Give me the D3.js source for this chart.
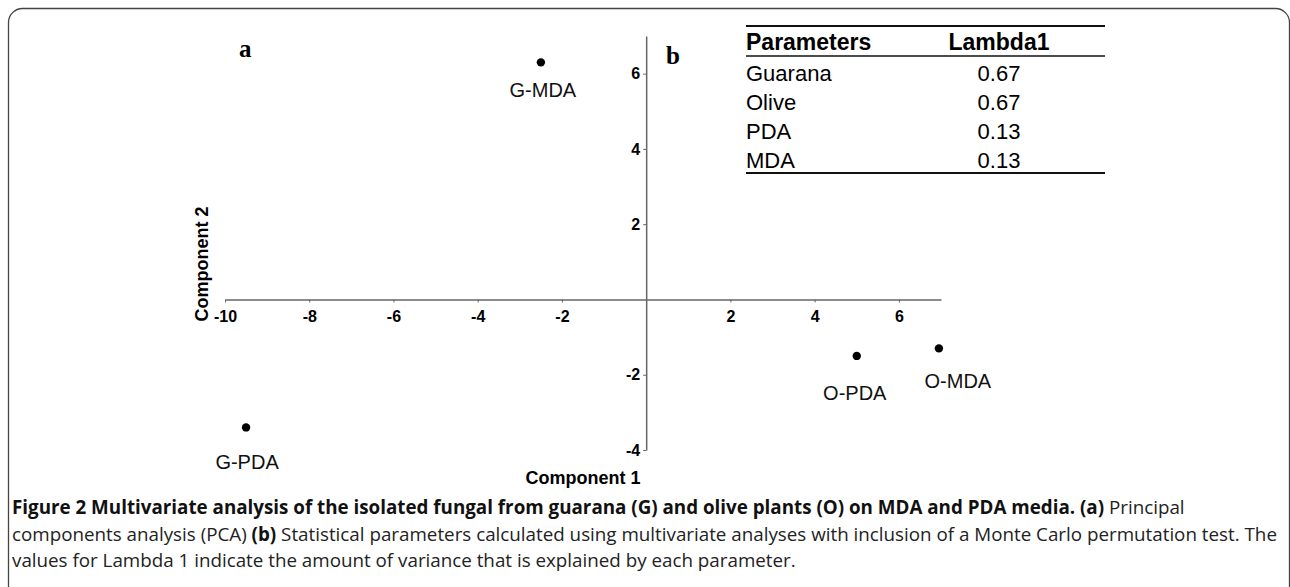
<!DOCTYPE html>
<html>
<head>
<meta charset="utf-8">
<script src="https://cdn.jsdelivr.net/npm/d3@7"></script>
<style>
  body { margin: 0; background: #fff; }
  svg { display: block; }
</style>
</head>
<body>
<svg id="chart" width="1290" height="587"></svg>
<script>
// PCA scores
var pointNames = ["G-MDA", "G-PDA", "O-PDA", "O-MDA"];
var comp1 = [-2.5, -9.5, 5.0, 6.95];
var comp2 = [6.3, -3.4, -1.5, -1.3];

var xTicks = [-10, -8, -6, -4, -2, 2, 4, 6];
var yTicks = [-4, -2, 2, 4, 6];

// table (b)
var tableHeader = ["Parameters", "Lambda1"];
var params = ["Guarana", "Olive", "PDA", "MDA"];
var lambda1 = ["0.67", "0.67", "0.13", "0.13"];

var svg = d3.select("#chart");
var sans = "'Liberation Sans', Arial, sans-serif";

// frame
svg.append("rect")
  .attr("x", 8.5).attr("y", 8.5)
  .attr("width", 1281).attr("height", 592)
  .attr("rx", 14).attr("ry", 14)
  .attr("fill", "none")
  .attr("stroke", "#444")
  .attr("stroke-width", 1.3);

var x = d3.scaleLinear().domain([-10, 7]).range([225, 941]);
var y = d3.scaleLinear().domain([-4, 7]).range([450, 36]);

var axisColor = "#666";

var gx = svg.append("g")
  .attr("transform", "translate(0," + y(0) + ")")
  .call(d3.axisBottom(x).tickValues(xTicks).tickSize(3).tickSizeOuter(0).tickPadding(8));

var gy = svg.append("g")
  .attr("transform", "translate(" + x(0) + ",0)")
  .call(d3.axisLeft(y).tickValues(yTicks).tickSize(3).tickSizeOuter(0).tickPadding(3));

[gx, gy].forEach(function(g) {
  g.select(".domain").attr("stroke", axisColor).attr("stroke-width", 1.5);
  g.selectAll(".tick line").attr("stroke", axisColor).attr("stroke-width", 1);
  g.selectAll(".tick text")
    .attr("fill", "#000")
    .style("font-family", sans)
    .style("font-weight", "bold")
    .style("font-size", "16px")
    .text(function(d) { return String(d); }); // plain hyphen like the original
});

// axis titles
svg.append("text")
  .attr("x", (x.range()[0] + x.range()[1]) / 2)
  .attr("y", 484)
  .attr("text-anchor", "middle")
  .style("font-family", sans)
  .style("font-weight", "bold")
  .style("font-size", "18px")
  .text("Component 1");

svg.append("text")
  .attr("transform", "translate(208,264) rotate(-90)")
  .attr("text-anchor", "middle")
  .style("font-family", sans)
  .style("font-weight", "bold")
  .style("font-size", "18px")
  .text("Component 2");

// points + labels
var labelNudge = { "G-MDA": [2, 35], "G-PDA": [1, 42], "O-PDA": [-2, 44], "O-MDA": [19, 40] };

var pts = svg.append("g").selectAll("g")
  .data(pointNames)
  .join("g");

pts.append("circle")
  .attr("cx", function(d, i) { return x(comp1[i]); })
  .attr("cy", function(d, i) { return y(comp2[i]); })
  .attr("r", 4.2)
  .attr("fill", "#000");

pts.append("text")
  .attr("x", function(d, i) { return x(comp1[i]) + labelNudge[d][0]; })
  .attr("y", function(d, i) { return y(comp2[i]) + labelNudge[d][1]; })
  .attr("text-anchor", "middle")
  .style("font-family", sans)
  .style("font-size", "20px")
  .attr("fill", "#111")
  .text(function(d) { return d; });

// panel letters
svg.append("text").attr("x", 239).attr("y", 57)
  .style("font-family", "'Liberation Serif', 'DejaVu Serif', serif")
  .style("font-weight", "bold").style("font-size", "25px")
  .text("a");
svg.append("text").attr("x", 666).attr("y", 64)
  .style("font-family", "'Liberation Serif', 'DejaVu Serif', serif")
  .style("font-weight", "bold").style("font-size", "25px")
  .text("b");

// table (b)
var tLeft = 746, tRight = 1105, valCenter = 999;
var tbl = svg.append("g")
  .style("font-family", sans)
  .style("font-size", "22px");

tbl.append("line").attr("x1", tLeft).attr("x2", tRight).attr("y1", 26).attr("y2", 26)
  .attr("stroke", "#111").attr("stroke-width", 2.2);
tbl.append("line").attr("x1", tLeft).attr("x2", tRight).attr("y1", 56).attr("y2", 56)
  .attr("stroke", "#111").attr("stroke-width", 1.6);
tbl.append("line").attr("x1", tLeft).attr("x2", tRight).attr("y1", 173).attr("y2", 173)
  .attr("stroke", "#111").attr("stroke-width", 2.2);

tbl.append("text").attr("x", tLeft).attr("y", 50)
  .style("font-weight", "bold").style("font-size", "23px")
  .text(tableHeader[0]);
tbl.append("text").attr("x", valCenter).attr("y", 50)
  .attr("text-anchor", "middle")
  .style("font-weight", "bold").style("font-size", "23px")
  .text(tableHeader[1]);

var rowY = d3.scalePoint().domain(params).range([81, 168]);

tbl.selectAll("text.param")
  .data(params)
  .join("text")
  .attr("class", "param")
  .attr("x", tLeft)
  .attr("y", function(d) { return rowY(d); })
  .text(function(d) { return d; });

tbl.selectAll("text.val")
  .data(params)
  .join("text")
  .attr("class", "val")
  .attr("x", valCenter)
  .attr("y", function(d) { return rowY(d); })
  .attr("text-anchor", "middle")
  .text(function(d, i) { return lambda1[i]; });

// caption
var cap = svg.append("g")
  .style("font-family", "'Open Sans', sans-serif")
  .style("font-size", "18.8px")
  .attr("fill", "#222");

var l1 = cap.append("text").attr("x", 12).attr("y", 514);
l1.append("tspan").style("font-weight", "bold").attr("fill", "#111")
  .text("Figure 2 Multivariate analysis of the isolated fungal from guarana (G) and olive plants (O) on MDA and PDA media. (a)");
l1.append("tspan").text(" Principal");

var l2 = cap.append("text").attr("x", 12).attr("y", 541);
l2.append("tspan").text("components analysis (PCA) ");
l2.append("tspan").style("font-weight", "bold").attr("fill", "#111").text("(b)");
l2.append("tspan").text(" Statistical parameters calculated using multivariate analyses with inclusion of a Monte Carlo permutation test. The");

cap.append("text").attr("x", 12).attr("y", 567)
  .text("values for Lambda 1 indicate the amount of variance that is explained by each parameter.");
</script>
</body>
</html>
